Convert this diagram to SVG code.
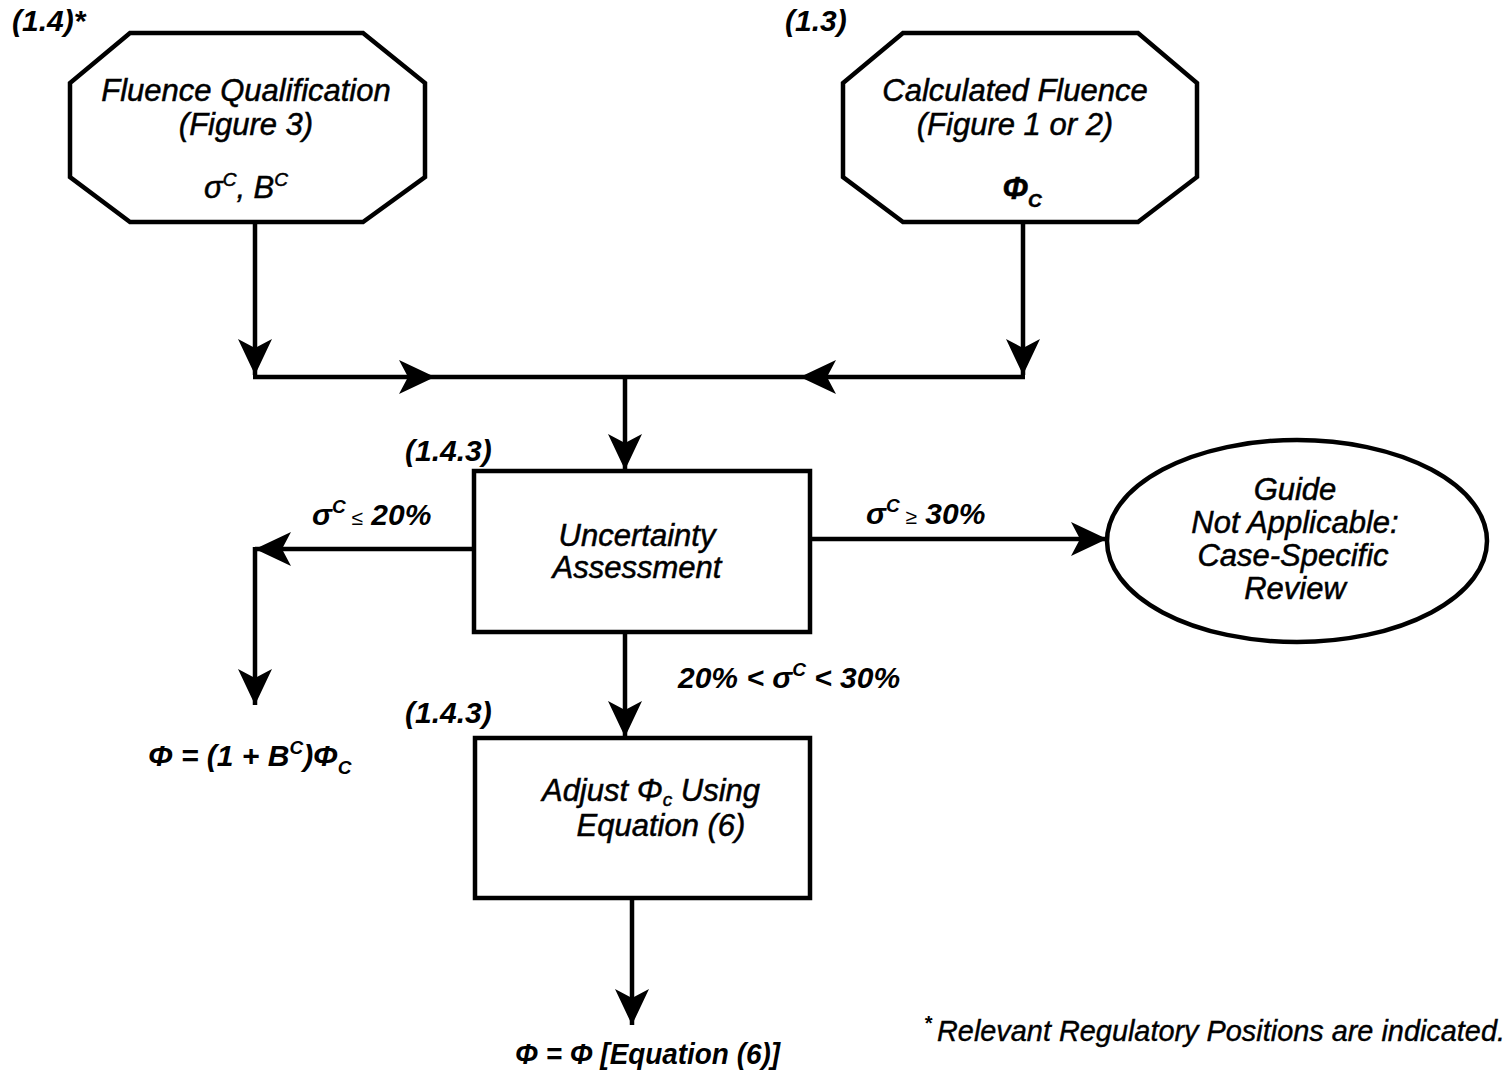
<svg xmlns="http://www.w3.org/2000/svg" width="1511" height="1074" viewBox="0 0 1511 1074">
<defs>
<style>
.shape{fill:#fff;stroke:#000;stroke-width:4.5;stroke-linejoin:miter}
.conn{fill:none;stroke:#000;stroke-width:4.5}
text{font-family:"Liberation Sans",Arial,Helvetica,sans-serif;font-style:italic;fill:#000}
.node{font-size:31px;text-anchor:middle;stroke:#000;stroke-width:0.5}
.lbl{font-size:30px;font-weight:bold}
.sup{font-size:19px}
</style>
<marker id="ah" viewBox="-38 -20 40 40" refX="0" refY="0" markerWidth="40" markerHeight="40" markerUnits="userSpaceOnUse" orient="auto">
<path d="M0,0 L-36,-17 L-27,0 L-36,17 Z" fill="#000"/>
</marker>
</defs>
<rect width="1511" height="1074" fill="#fff"/>

<g id="connectors">
<path class="conn" d="M255,222 V375" marker-end="url(#ah)"/>
<path class="conn" d="M1023,222 V375" marker-end="url(#ah)"/>
<path class="conn" d="M253,377 H435" marker-end="url(#ah)"/>
<path class="conn" d="M1025,377 H800" marker-end="url(#ah)"/>
<path class="conn" d="M435,377 H800"/>
<path class="conn" d="M625,377 V470" marker-end="url(#ah)"/>
<path class="conn" d="M474,549 H255" marker-end="url(#ah)"/>
<path class="conn" d="M255,547 V705" marker-end="url(#ah)"/>
<path class="conn" d="M810,539 H1107" marker-end="url(#ah)"/>
<path class="conn" d="M625,632 V737" marker-end="url(#ah)"/>
<path class="conn" d="M632,898 V1025" marker-end="url(#ah)"/>
</g>

<g id="fluence-qualification">
<polygon class="shape" points="130,33 363,33 425,83 425,177 363,222 130,222 70,177 70,83"/>
<text class="node" x="246" y="101">Fluence Qualification</text>
<text class="node" x="246" y="135">(Figure 3)</text>
<text class="node" x="246" y="198">σ<tspan class="sup" dy="-12">C</tspan><tspan dy="12">, B</tspan><tspan class="sup" dy="-12">C</tspan></text>
<text class="lbl" x="12" y="31">(1.4)*</text>
</g>

<g id="calculated-fluence">
<polygon class="shape" points="903,33 1138,33 1197,83 1197,177 1138,222 903,222 843,177 843,83"/>
<text class="node" x="1015" y="101">Calculated Fluence</text>
<text class="node" x="1015" y="135">(Figure 1 or 2)</text>
<text class="node" x="1022" y="199" font-weight="bold">Φ<tspan class="sup" dy="8">C</tspan></text>
<text class="lbl" x="785" y="31">(1.3)</text>
</g>

<g id="uncertainty-assessment">
<rect class="shape" x="474" y="471" width="336" height="161"/>
<text class="node" x="637" y="546" font-size="32">Uncertainty</text>
<text class="node" x="637" y="578" font-size="32">Assessment</text>
<text class="lbl" x="405" y="461">(1.4.3)</text>
</g>

<g id="guide-not-applicable">
<ellipse class="shape" cx="1297" cy="541" rx="190" ry="101"/>
<text class="node" x="1295" y="500" font-size="30">Guide</text>
<text class="node" x="1295" y="533" font-size="30">Not Applicable:</text>
<text class="node" x="1293" y="566" font-size="30">Case-Specific</text>
<text class="node" x="1295" y="599" font-size="30">Review</text>
</g>

<g id="adjust">
<rect class="shape" x="475" y="738" width="335" height="160"/>
<text class="node" x="651" y="801">Adjust Φ<tspan class="sup" font-size="16" dy="5">c</tspan><tspan dy="-5"> Using</tspan></text>
<text class="node" x="661" y="836">Equation (6)</text>
<text class="lbl" x="405" y="723">(1.4.3)</text>
</g>

<g id="labels">
<text class="lbl" x="312" y="525">σ<tspan class="sup" dy="-12">C</tspan><tspan dy="12" font-weight="normal" font-size="21"> ≤</tspan><tspan> 20%</tspan></text>
<text class="lbl" x="866" y="524">σ<tspan class="sup" dy="-12">C</tspan><tspan dy="12" font-weight="normal" font-size="21"> ≥</tspan><tspan> 30%</tspan></text>
<text class="lbl" x="678" y="688">20% &lt; σ<tspan class="sup" dy="-12">C</tspan><tspan dy="12"> &lt; 30%</tspan></text>
<text class="lbl" x="148" y="766">Φ = (1 + B<tspan class="sup" dy="-12">C</tspan><tspan dy="12">)Φ</tspan><tspan class="sup" dy="8">C</tspan></text>
<text class="lbl" x="515" y="1064" textLength="265" lengthAdjust="spacingAndGlyphs">Φ = Φ [Equation (6)]</text>
<text x="924" y="1030" font-size="20" font-weight="bold">*</text>
<text x="937" y="1041" font-size="29" stroke="#000" stroke-width="0.4" textLength="568" lengthAdjust="spacingAndGlyphs">Relevant Regulatory Positions are indicated.</text>
</g>
</svg>
